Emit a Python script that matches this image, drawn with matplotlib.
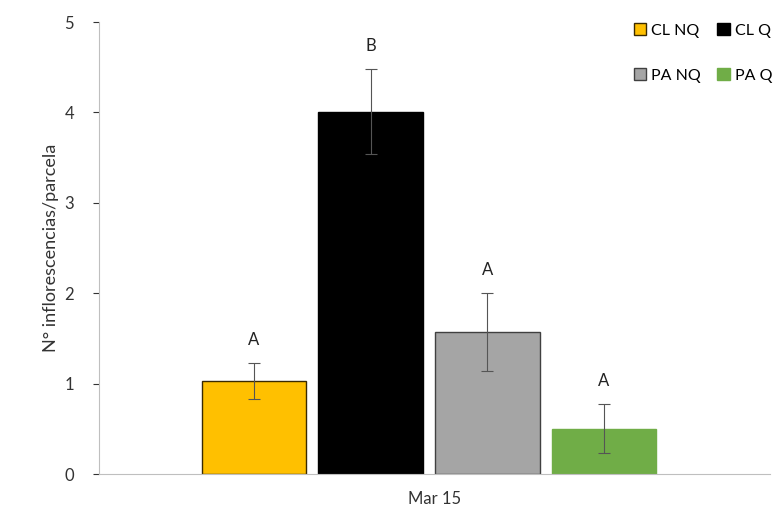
import numpy as np
import matplotlib
matplotlib.use("Agg")
import matplotlib.pyplot as plt

plt.rcParams["font.family"] = ["Lato", "DejaVu Sans"]

# ====================================
# DATA
# ====================================
series = ["CL NQ", "CL Q", "PA NQ", "PA Q"]
values = [1.03, 4.01, 1.57, 0.50]
errors = [0.20, 0.47, 0.43, 0.27]
letters = ["A", "B", "A", "A"]
colors = ["#FFC000", "#000000", "#A5A5A5", "#70AD47"]
edges = ["#3a2a00", "#000000", "#404040", "#70AD47"]
category = "Mar 15"

# ====================================
# PLOT
# ====================================
fig = plt.figure(figsize=(7.79, 5.25), dpi=100)
ax = fig.add_axes([0.127, 0.097, 0.861, 0.861])

width = 0.156
step = 0.174
offsets = (np.arange(len(series)) - 1.5) * step - 0.008

handles = []
for i, name in enumerate(series):
    b = ax.bar(offsets[i], values[i], width=width, color=colors[i],
               edgecolor=edges[i], linewidth=1.0, label=name)
    handles.append(b)
    ax.errorbar(offsets[i], values[i], yerr=errors[i], fmt="none",
                ecolor="#555555", elinewidth=0.8, capsize=4, capthick=0.8)
    ax.text(offsets[i], values[i] + errors[i] + 0.17, letters[i],
            ha="center", va="bottom", fontsize=12, color="#222222")

ax.set_xlim(-0.5, 0.5)
ax.set_ylim(0, 5)
ax.set_yticks([0, 1, 2, 3, 4, 5])
ax.set_xticks([0])
ax.set_xticklabels([category])
ax.tick_params(axis="x", length=0, labelsize=12, pad=12, colors="#333333")
ax.tick_params(axis="y", length=4, labelsize=12, pad=14, colors="#333333",
               direction="out")
for t in ax.yaxis.get_ticklines():
    t.set_color("#999999")

ax.set_ylabel("N° inflorescencias/parcela", fontsize=13, color="#333333")

for s in ["top", "right"]:
    ax.spines[s].set_visible(False)
ax.spines["left"].set_color("#bfbfbf")
ax.spines["bottom"].set_color("#bfbfbf")

# legend filled row by row (matplotlib fills by column)
order = [0, 2, 1, 3]
ax.legend([handles[k] for k in order], [series[k] for k in order],
          ncol=2, loc="upper right", bbox_to_anchor=(1.025, 1.03),
          frameon=False, fontsize=11.5, handlelength=0.8, handleheight=0.8,
          handletextpad=0.3, columnspacing=1.0, labelspacing=1.9)

fig.savefig("out.png", dpi=100)
